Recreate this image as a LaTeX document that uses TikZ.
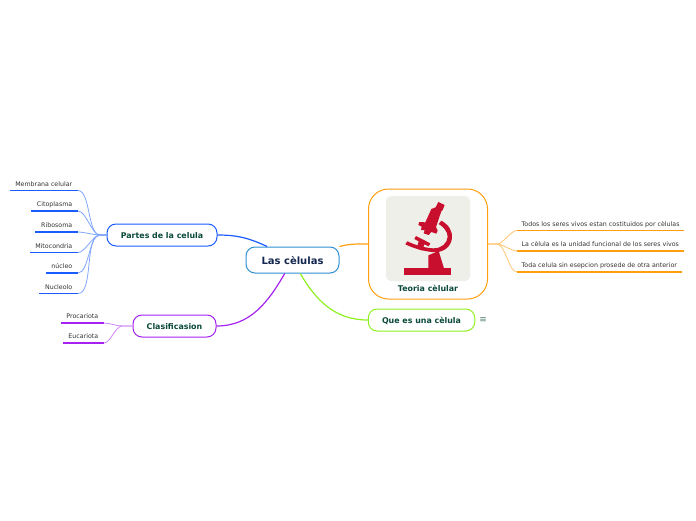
\documentclass[tikz,border=0pt]{standalone}
\usepackage{fontspec}
\setmainfont{DejaVu Sans}
\usetikzlibrary{arrows.meta,positioning,calc}
\definecolor{ink}{HTML}{0B4A3A}
\definecolor{navy}{HTML}{12264F}
\definecolor{leaftxt}{HTML}{333333}
\definecolor{sky}{HTML}{2F8FD3}
\definecolor{bluebr}{HTML}{1A5CFF}
\definecolor{purplebr}{HTML}{A522F2}
\definecolor{orangebr}{HTML}{FF9F0F}
\definecolor{greenbr}{HTML}{8FF01F}
\definecolor{scopered}{HTML}{C8102E}
\definecolor{mist}{HTML}{EFEFEA}
\tikzset{
  box/.style={rectangle, rounded corners=9pt, fill=white, align=center, inner sep=0pt,
              line width=1pt, text height=7.6pt, text depth=1pt,
              font=\fontsize{7.9}{9}\selectfont\bfseries, text=ink},
  rootbox/.style={box, draw=sky, minimum width=93pt, minimum height=26pt, text=navy,
                  text height=9pt, text depth=1pt, font=\fontsize{10}{11}\selectfont\bfseries},
  leaf/.style={anchor=south east, inner xsep=5.5pt, inner ysep=2.7pt, text=leaftxt,
               text height=5pt, text depth=1.5pt, font=\fontsize{6.3}{7}\selectfont},
  rleaf/.style={leaf, anchor=south west, inner xsep=4.5pt},
  under/.style={line width=1.3pt},
  br/.style={line width=1.2pt},
  tw/.style={line width=.8pt, looseness=.65}
}
\begin{document}
\begin{tikzpicture}[x=1pt,y=-1pt]
  \useasboundingbox (0,0) rectangle (696,520);

  \node[rootbox] (root) at (292.5,260) {Las cèlulas};
  \node[box, draw=bluebr, minimum width=110pt, minimum height=22pt] (partes) at (162,235) {Partes de la celula};
  \node[box, draw=purplebr, minimum width=83pt, minimum height=22pt] (clasif) at (174.5,326) {Clasificasion};
  \node[box, draw=greenbr, minimum width=106.5pt, minimum height=22pt] (quees) at (421.5,320) {Que es una cèlula};
  \node[box, draw=orangebr, rounded corners=20pt, minimum width=119pt,
        text height=102pt, text depth=8pt] (teoria) at (428,244) {Teoria cèlular};
  \node[right=4pt of quees, inner sep=0pt, text=ink!70, font=\fontsize{9}{9}\selectfont] (note) {≡};

  \coordinate (hubp) at (100,235);
  \coordinate (hubc) at (122,326);
  \coordinate (hubt) at (497,244);

  % leaves on the left
  \foreach \n/\t/\y in {m1/Membrana celular/190.5,m2/Citoplasma/211,m3/Ribosoma/232,m4/Mitocondria/252.5,m5/núcleo/273,m6/Nucleolo/293.5}{
    \node[leaf] (\n) at (78,\y) {\t};
    \draw[under, bluebr] (\n.south east) -- (\n.south west);
    \draw[tw, bluebr!55] (partes.west) -- (hubp) to[out=180,in=0] (\n.south east);
  }
  \foreach \n/\t/\y in {c1/Procariota/323,c2/Eucariota/343}{
    \node[leaf] (\n) at (104,\y) {\t};
    \draw[under, purplebr] (\n.south east) -- (\n.south west);
    \draw[tw, purplebr!55] (clasif.west) -- (hubc) to[out=180,in=0] (\n.south east);
  }
  % leaves on the right
  \foreach \n/\t/\y in {t1/Todos los seres vivos estan costituidos por cèlulas/230.5,t2/La cèlula es la unidad funcional de los seres vivos/251,t3/Toda celula sin esepcion prosede de otra anterior/272}{
    \node[rleaf] (\n) at (517,\y) {\t};
    \draw[under, orangebr] (\n.south west) -- (\n.south east);
    \draw[tw, orangebr!60] (teoria.east) -- (hubt) to[out=0,in=180] (\n.south west);
  }

  \draw[br, bluebr] (partes.east) to[out=0,in=155] (root.152);
  \draw[br, purplebr] (clasif.east) to[out=0,in=-120] (root.-120);
  \draw[br, greenbr] (root.-60) to[out=-60,in=180] (quees.west);
  \draw[br, orangebr] (root.16) to[out=15,in=180] (teoria.west |- hubt);

  % microscope
  \node[fill=mist, rounded corners=5pt, minimum width=84pt, minimum height=85pt, inner sep=0pt] (pic) at (428,238.5) {};
  \begin{scope}[shift={(360,180)}, x=.3333pt, y=-.3333pt]
    \fill[scopered] (132,264) rectangle (272,284);
    \fill[scopered] (205,265) -- (205,226) -- (236,213) -- (252,265) -- cycle;
    \fill[scopered] (244,122) .. controls (268,135) and (278,155) .. (276,175) .. controls (272,205) and (245,220) .. (215,216)
          .. controls (190,213) and (160,205) .. (136,193) -- (142,184) .. controls (165,195) and (195,204) .. (220,205)
          .. controls (245,205) and (262,190) .. (263,170) .. controls (263,155) and (250,140) .. (236,132) -- cycle;
    \fill[scopered] (163,177) -- (168,168) -- (211,190) -- (206,199) -- (193,193) -- (187,212) -- (170,205) -- (176,184) -- cycle;
    \fill[scopered] (235,66) -- (254,75) -- (248,90) -- (244,94) -- (228,141) -- (233,152) -- (229,161) -- (214,156) -- (206,165)
          -- (191,160) -- (194,150) -- (183,150) -- (185,140) -- (175,135) -- (178,126) -- (196,127) -- (214,87) -- (227,82) -- cycle;
  \end{scope}
\end{tikzpicture}
\end{document}
